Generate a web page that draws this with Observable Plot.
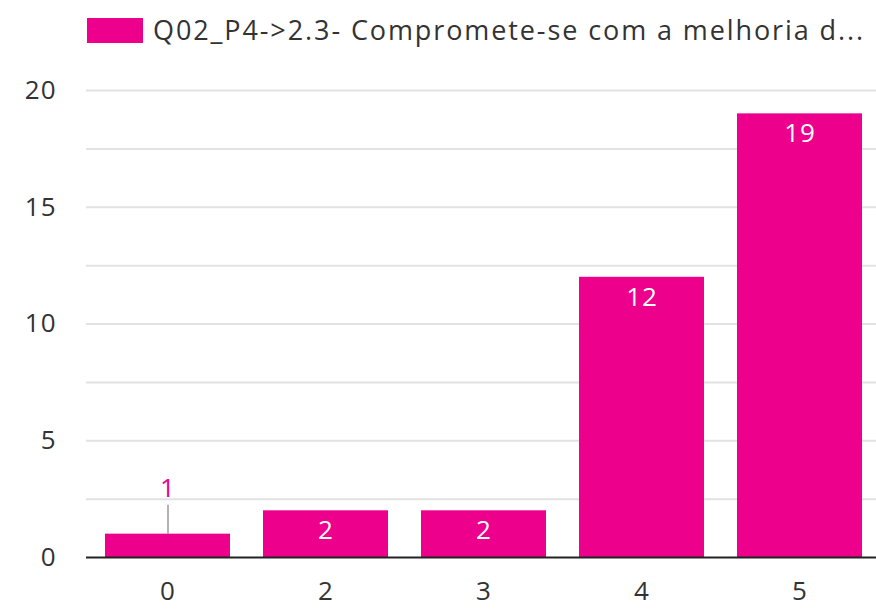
<!DOCTYPE html>
<html>
<head>
<meta charset="utf-8">
<script src="https://cdn.jsdelivr.net/npm/d3@7"></script>
<script src="https://cdn.jsdelivr.net/npm/@observablehq/plot@0.6"></script>
<style>
  html, body { margin: 0; padding: 0; background: #fff; }
  body { width: 876px; height: 609px; overflow: hidden; font-family: "Open Sans", sans-serif; }
  #legend { height: 62px; position: relative; }
  #legend .sw { position: absolute; left: 87px; top: 18px; width: 56px; height: 25px; background: #ec008c; }
  #legend .lb { position: absolute; left: 153px; top: 12px; font-size: 27px; letter-spacing: 1.9px; color: #333; white-space: nowrap; line-height: 36px; }
  #chart svg text { letter-spacing: 1px; }
</style>
</head>
<body>
<div id="legend"><div class="sw"></div><div class="lb"></div></div>
<div id="chart"></div>
<script>
const seriesName = "Q02_P4->2.3- Compromete-se com a melhoria d...";
const categories = ["0", "2", "3", "4", "5"];
const values = [1, 2, 2, 12, 19];
const yTicks = [0, 5, 10, 15, 20];
const gridValues = [2.5, 5, 7.5, 10, 12.5, 15, 17.5, 20];
const barColor = "#ec008c";

document.querySelector("#legend .lb").textContent = seriesName;

const data = categories.map((c, i) => ({cat: c, value: values[i]}));
const inside = data.filter(d => d.value >= 2);
const outside = data.filter(d => d.value < 2);

const chart = Plot.plot({
  width: 876,
  height: 547,
  marginLeft: 89,
  marginRight: -2,
  marginTop: 28,
  marginBottom: 52,
  style: {fontFamily: "Open Sans, sans-serif", fontSize: "26px", color: "#333", background: "white"},
  x: {domain: categories, paddingInner: 0.21, paddingOuter: 0.1, label: null},
  y: {domain: [0, 20], label: null},
  marks: [
    Plot.ruleY(gridValues, {stroke: "#e2e2e2", strokeWidth: 2, insetLeft: -3}),
    Plot.barY(data, {x: "cat", y: "value", fill: barColor}),
    Plot.ruleY([0], {stroke: "#222", strokeWidth: 2, insetLeft: -3}),
    Plot.axisY(yTicks, {tickSize: 0, tickPadding: 33, fontSize: 26, fill: "#333", label: null}),
    Plot.axisX({tickSize: 0, tickPadding: 24, fontSize: 26, fill: "#333", label: null}),
    Plot.text(inside, {x: "cat", y: "value", text: d => String(d.value), dy: 20, fill: "white", fontSize: 26}),
    Plot.ruleX(outside, {x: "cat", y1: "value", y2: "value", insetTop: -29, stroke: "#999", strokeWidth: 1.5}),
    Plot.text(outside, {x: "cat", y: "value", text: d => String(d.value), dy: -45, fill: barColor, fontSize: 26})
  ]
});
document.getElementById("chart").appendChild(chart);
</script>
</body>
</html>
